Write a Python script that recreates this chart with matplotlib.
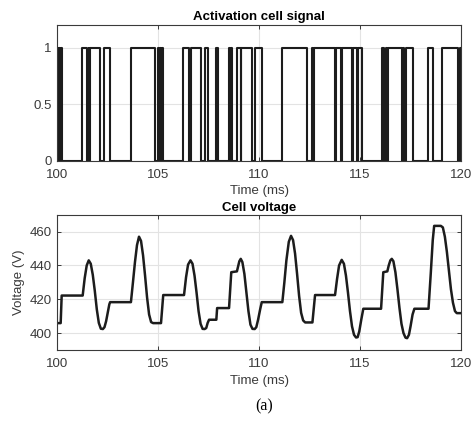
import matplotlib
matplotlib.use("Agg")
import matplotlib.pyplot as plt

plt.rcParams['font.family'] = ['Liberation Sans', 'DejaVu Sans']

# Activation signal: intervals where the cell is switched on (ms)
on_start = [100.02, 100.10, 100.18, 101.24, 101.55, 101.64, 102.33, 103.65,
            104.98, 105.08, 105.17, 106.24, 106.61, 107.32, 107.86, 108.51,
            108.60, 108.92, 109.12, 109.80, 111.12, 112.64, 112.72, 113.80,
            114.10, 114.65, 114.90, 116.07, 116.28, 116.37, 117.15, 117.25,
            118.38, 119.08, 119.95]
on_end = [100.06, 100.14, 100.24, 101.49, 101.58, 102.13, 102.61, 104.84,
          105.02, 105.12, 105.25, 106.52, 107.11, 107.48, 107.95, 108.55,
          108.64, 109.08, 109.63, 110.13, 112.36, 112.68, 113.74, 114.05,
          114.60, 114.85, 115.11, 116.20, 116.32, 117.06, 117.20, 117.64,
          118.63, 119.84, 120.00]

# Cell voltage, points
t_v = [100.00, 100.17, 100.22, 101.26, 101.36, 101.46, 101.56, 101.66, 101.76,
       101.86, 101.96, 102.06, 102.16, 102.26, 102.34, 102.42, 102.50, 102.58,
       102.62, 103.65, 103.75, 103.85, 103.95, 104.05, 104.15, 104.25, 104.35,
       104.45, 104.55, 104.65, 104.75, 105.14, 105.25, 106.28, 106.38, 106.48,
       106.60, 106.70, 106.80, 106.90, 107.00, 107.10, 107.20, 107.30, 107.38,
       107.45, 107.52, 107.88, 107.92, 108.51, 108.62, 108.90, 108.95, 109.02,
       109.09, 109.17, 109.27, 109.37, 109.47, 109.57, 109.67, 109.78, 109.86,
       109.95, 110.05, 110.13, 111.15, 111.25, 111.35, 111.47, 111.58, 111.68,
       111.78, 111.88, 111.98, 112.08, 112.18, 112.28, 112.64, 112.77, 113.76,
       113.86, 113.96, 114.09, 114.20, 114.30, 114.40, 114.50, 114.60, 114.70,
       114.80, 114.88, 114.96, 115.06, 115.16, 116.04, 116.15, 116.35, 116.42,
       116.50, 116.57, 116.65, 116.75, 116.85, 116.95, 117.05, 117.15, 117.25,
       117.33, 117.42, 117.50, 117.60, 117.69, 118.39, 118.50, 118.60, 118.67,
       119.00, 119.10, 119.20, 119.30, 119.40, 119.50, 119.60, 119.70, 119.79,
       120.00]
v_cell = [405.9, 405.9, 422.2, 422.2, 432.5, 440.0, 443.0, 441.0, 434.5,
          425.0, 414.0, 406.0, 402.6, 402.4, 403.5, 407.0, 412.0, 417.0,
          418.3, 418.3, 430.0, 442.0, 452.0, 457.0, 454.5, 446.0, 434.0,
          421.0, 411.0, 406.5, 405.9, 405.9, 422.5, 422.5, 433.0, 440.5,
          443.0, 441.0, 434.0, 424.0, 413.0, 405.5, 402.5, 402.4, 403.0,
          406.0, 407.9, 407.9, 414.8, 414.8, 436.0, 436.5, 439.0, 442.5,
          443.9, 442.0, 435.0, 424.0, 413.0, 405.0, 402.5, 402.4, 403.5,
          408.0, 414.0, 418.3, 418.3, 430.0, 443.0, 454.0, 457.5, 455.0,
          447.0, 435.0, 422.0, 412.0, 407.5, 406.3, 406.3, 422.5, 422.5,
          432.0, 440.0, 443.3, 441.0, 434.0, 424.0, 413.0, 404.0, 399.0,
          397.4, 397.6, 401.0, 408.0, 414.4, 414.4, 436.0, 436.5, 440.0,
          443.0, 443.9, 442.5, 436.0, 426.0, 415.0, 405.5, 400.0, 397.3,
          397.0, 399.0, 404.0, 411.0, 414.4, 414.4, 435.0, 455.0, 463.4,
          463.4, 462.5, 457.0, 448.0, 437.0, 426.0, 418.0, 413.0, 411.8,
          411.8]

# build the step trace of the activation signal
t_s = [100.0]
s = [0]
for a, b in zip(on_start, on_end):
    t_s += [a, a, b, b]
    s += [0, 1, 1, 0]
t_s.append(120.0)
s.append(0)

fig = plt.figure(figsize=(4.77, 4.22), dpi=100)
ax1 = fig.add_axes([0.120, 0.619, 0.8465, 0.3216])
ax2 = fig.add_axes([0.120, 0.1706, 0.8465, 0.3206])

line_col = '#1c1c1c'
ax_col = '#3a3a3a'

ax1.plot(t_s, s, color=line_col, linewidth=1.5)
ax2.plot(t_v, v_cell, color=line_col, linewidth=1.8)

for ax in (ax1, ax2):
    ax.set_xlim(100, 120)
    ax.set_xticks([100, 105, 110, 115, 120])
    ax.grid(True, color='#e3e3e3', linewidth=0.8)
    ax.set_axisbelow(True)
    ax.tick_params(direction='in', top=True, right=True, length=3,
                   labelsize=9.5, colors=ax_col, width=0.7)
    ax.tick_params(axis='x', pad=6)
    ax.tick_params(axis='y', pad=4)
    for sp in ax.spines.values():
        sp.set_color(ax_col)
        sp.set_linewidth(0.8)
    ax.set_xlabel('Time (ms)', fontsize=9.5, color=ax_col, labelpad=3)

ax1.set_ylim(0, 1.2)
ax1.set_yticks([0, 0.5, 1])
ax1.set_yticklabels(['0', '0.5', '1'])
ax1.set_title('Activation cell signal', fontsize=9.5, fontweight='bold', pad=4)

ax2.set_ylim(390, 470)
ax2.set_yticks([400, 420, 440, 460])
ax2.set_ylabel('Voltage (V)', fontsize=9.5, color=ax_col, labelpad=3)
ax2.set_title('Cell voltage', fontsize=9.5, fontweight='bold', pad=3)

fig.text(0.553, 0.037, '(a)', fontsize=11.5, family=['Liberation Serif'],
         ha='center', va='center')

fig.savefig('out.png', dpi=100)
